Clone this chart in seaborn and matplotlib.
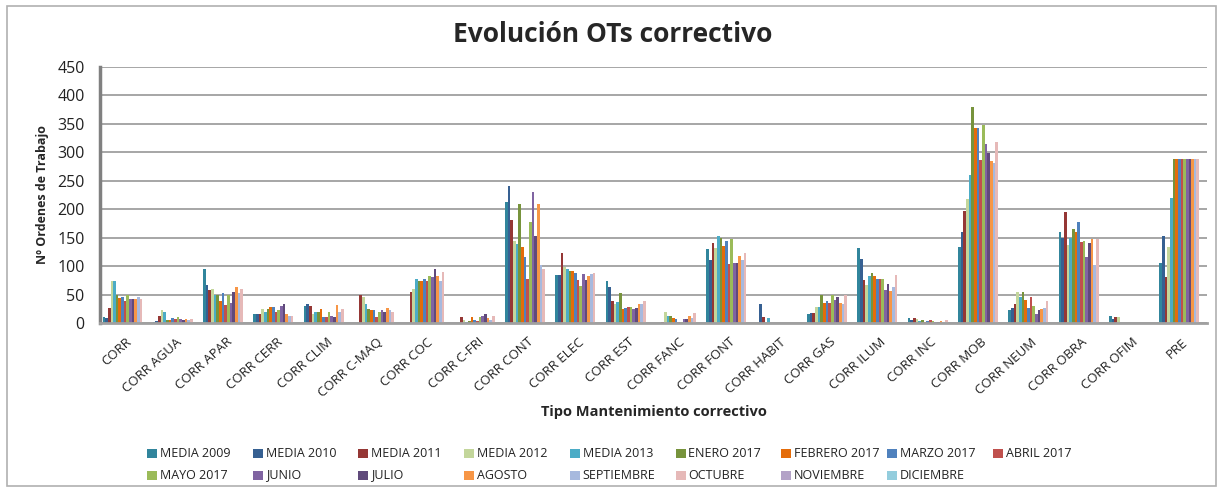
import numpy as np
import pandas as pd
import matplotlib
matplotlib.use("Agg")
import matplotlib.pyplot as plt
import seaborn as sns
from matplotlib.patches import Rectangle

categorias = ["CORR", "CORR AGUA", "CORR APAR", "CORR CERR", "CORR CLIM", "CORR C-MAQ",
              "CORR COC", "CORR C-FRI", "CORR CONT", "CORR ELEC", "CORR EST", "CORR FANC",
              "CORR FONT", "CORR HABIT", "CORR GAS", "CORR ILUM", "CORR INC", "CORR MOB",
              "CORR NEUM", "CORR OBRA", "CORR OFIM", "PRE"]

series = ["MEDIA 2009", "MEDIA 2010", "MEDIA 2011", "MEDIA 2012", "MEDIA 2013",
          "ENERO 2017", "FEBRERO 2017", "MARZO 2017", "ABRIL 2017", "MAYO 2017",
          "JUNIO", "JULIO", "AGOSTO", "SEPTIEMBRE", "OCTUBRE", "NOVIEMBRE", "DICIEMBRE"]

colores = ["#31859C", "#366092", "#953735", "#C3D69B", "#4BACC6", "#77933C", "#E46C0A",
           "#4F81BD", "#C0504D", "#9BBB59", "#8064A2", "#604A7B", "#F79646", "#A7B9DE",
           "#E6B9B8", "#B3A2C7", "#93CDDD"]

# valores por categoria (15 series con datos; NOVIEMBRE y DICIEMBRE vacios)
v_corr  = [10, 8, 27, 73, 73, 49, 43, 46, 39, 49, 42, 42, 42, 46, 42]
v_agua  = [2, 4, 13, 22, 20, 6, 6, 9, 7, 10, 7, 5, 7, 5, 7]
v_apar  = [94, 67, 58, 60, 49, 49, 39, 52, 31, 49, 35, 54, 63, 52, 60]
v_cerr  = [15, 15, 16, 24, 19, 24, 28, 28, 19, 22, 30, 33, 16, 13, 13]
v_clim  = [29, 33, 29, 15, 19, 19, 24, 10, 10, 20, 13, 10, 31, 19, 24]
v_cmaq  = [0, 0, 49, 46, 33, 24, 22, 22, 10, 19, 22, 20, 26, 23, 19]
v_coc   = [0, 0, 54, 60, 78, 73, 73, 78, 73, 83, 80, 94, 83, 73, 90]
v_cfri  = [0, 0, 10, 6, 2, 4, 10, 6, 4, 10, 12, 15, 8, 6, 12]
v_cont  = [213, 240, 181, 144, 138, 208, 133, 116, 78, 178, 230, 153, 209, 101, 95]
v_elec  = [84, 84, 122, 99, 94, 91, 92, 88, 75, 65, 86, 75, 83, 86, 88]
v_est   = [73, 63, 39, 34, 37, 52, 24, 27, 28, 28, 25, 26, 33, 33, 39]
v_fanc  = [0, 0, 2, 20, 12, 12, 9, 7, 2, 2, 7, 7, 12, 9, 18]
v_font  = [129, 110, 141, 131, 152, 149, 135, 144, 103, 148, 106, 106, 117, 110, 122]
v_habit = [0, 33, 11, 1, 8, 0, 0, 0, 0, 0, 0, 0, 0, 0, 0]
v_gas   = [16, 17, 17, 28, 28, 49, 35, 39, 35, 49, 41, 45, 35, 33, 49]
v_ilum  = [131, 112, 75, 67, 83, 88, 83, 77, 78, 78, 58, 69, 56, 63, 84]
v_inc   = [9, 5, 9, 7, 4, 5, 2, 4, 5, 4, 2, 2, 4, 2, 5]
v_mob   = [133, 159, 197, 218, 260, 379, 342, 342, 286, 348, 314, 299, 285, 281, 318]
v_neum  = [22, 27, 33, 54, 46, 54, 41, 27, 45, 29, 16, 22, 24, 26, 39]
v_obra  = [159, 149, 195, 137, 149, 165, 159, 178, 142, 144, 116, 141, 148, 102, 148]
v_ofim  = [13, 7, 10, 10, 0, 0, 0, 0, 0, 0, 0, 0, 0, 0, 0]
v_pre   = [105, 152, 80, 133, 220, 287, 287, 287, 287, 287, 287, 287, 287, 287, 287]

valores = [v_corr, v_agua, v_apar, v_cerr, v_clim, v_cmaq, v_coc, v_cfri, v_cont, v_elec,
           v_est, v_fanc, v_font, v_habit, v_gas, v_ilum, v_inc, v_mob, v_neum, v_obra,
           v_ofim, v_pre]

filas = []
for cat, vals in zip(categorias, valores):
    vals = list(vals) + [0] * (len(series) - len(vals))
    for s, v in zip(series, vals):
        filas.append({"Tipo": cat, "Serie": s, "OTs": v})
data = pd.DataFrame(filas)

sns.set_style("white")
plt.rcParams['font.family'] = ['Open Sans', 'DejaVu Sans']

W, H = 1223, 490
fig = plt.figure(figsize=(W / 100, H / 100), dpi=100)
ax = fig.add_axes([100 / W, 1 - 323 / H, 1107 / W, 256.5 / H])

sns.barplot(data=data, x="Tipo", y="OTs", hue="Serie", order=categorias,
            hue_order=series, palette=colores, width=0.9, errorbar=None,
            saturation=1, ax=ax, legend=False, linewidth=0)

ax.set_ylim(0, 450)
ax.set_yticks(range(0, 451, 50))
ax.set_xlim(-0.5, len(categorias) - 0.5)
ax.yaxis.grid(True, color="#A6A6A6", linewidth=1.4)
ax.set_axisbelow(True)
for s in ["top", "right"]:
    ax.spines[s].set_visible(False)
ax.spines["left"].set_color("#808080")
ax.spines["left"].set_linewidth(2.5)
ax.spines["bottom"].set_color("#A0A0A0")
ax.spines["bottom"].set_linewidth(2)
ax.tick_params(axis="y", length=4, color="#808080", labelsize=11.5, labelcolor="#222222", pad=7)
ax.tick_params(axis="x", length=0, labelsize=9.5, labelcolor="#222222", pad=9)
for lab in ax.get_xticklabels():
    lab.set_rotation(42)
    lab.set_ha("right")
    lab.set_rotation_mode("anchor")

ax.set_xlabel("Tipo Mantenimiento correctivo", fontsize=10.5, fontweight="bold", labelpad=4)
ax.set_ylabel("Nº Ordenes de Trabajo", fontsize=9, fontweight="bold", labelpad=6)

fig.text(0.501, 1 - 34 / H, "Evolución OTs correctivo", ha="center", va="center",
         fontsize=19, fontweight="bold")

# leyenda en dos filas, columnas de ancho fijo
col_x = [147 + 105.7 * i for i in range(9)]
row_y = [453, 475]
for i, (nombre, c) in enumerate(zip(series, colores)):
    fila, col = divmod(i, 9)
    x, y = col_x[col], row_y[fila]
    fig.patches.append(Rectangle((x / W, 1 - (y + 4.5) / H), 10 / W, 9 / H,
                                 transform=fig.transFigure, facecolor=c, edgecolor="none"))
    fig.text((x + 13) / W, 1 - y / H, nombre, ha="left", va="center", fontsize=9,
             color="#222222")

fig.patches.append(Rectangle((7 / W, 4 / H), 1209 / W, 480 / H,
                             transform=fig.transFigure, fill=False,
                             edgecolor="#B0B0B0", linewidth=1.2))

fig.savefig("out.png", dpi=100)
